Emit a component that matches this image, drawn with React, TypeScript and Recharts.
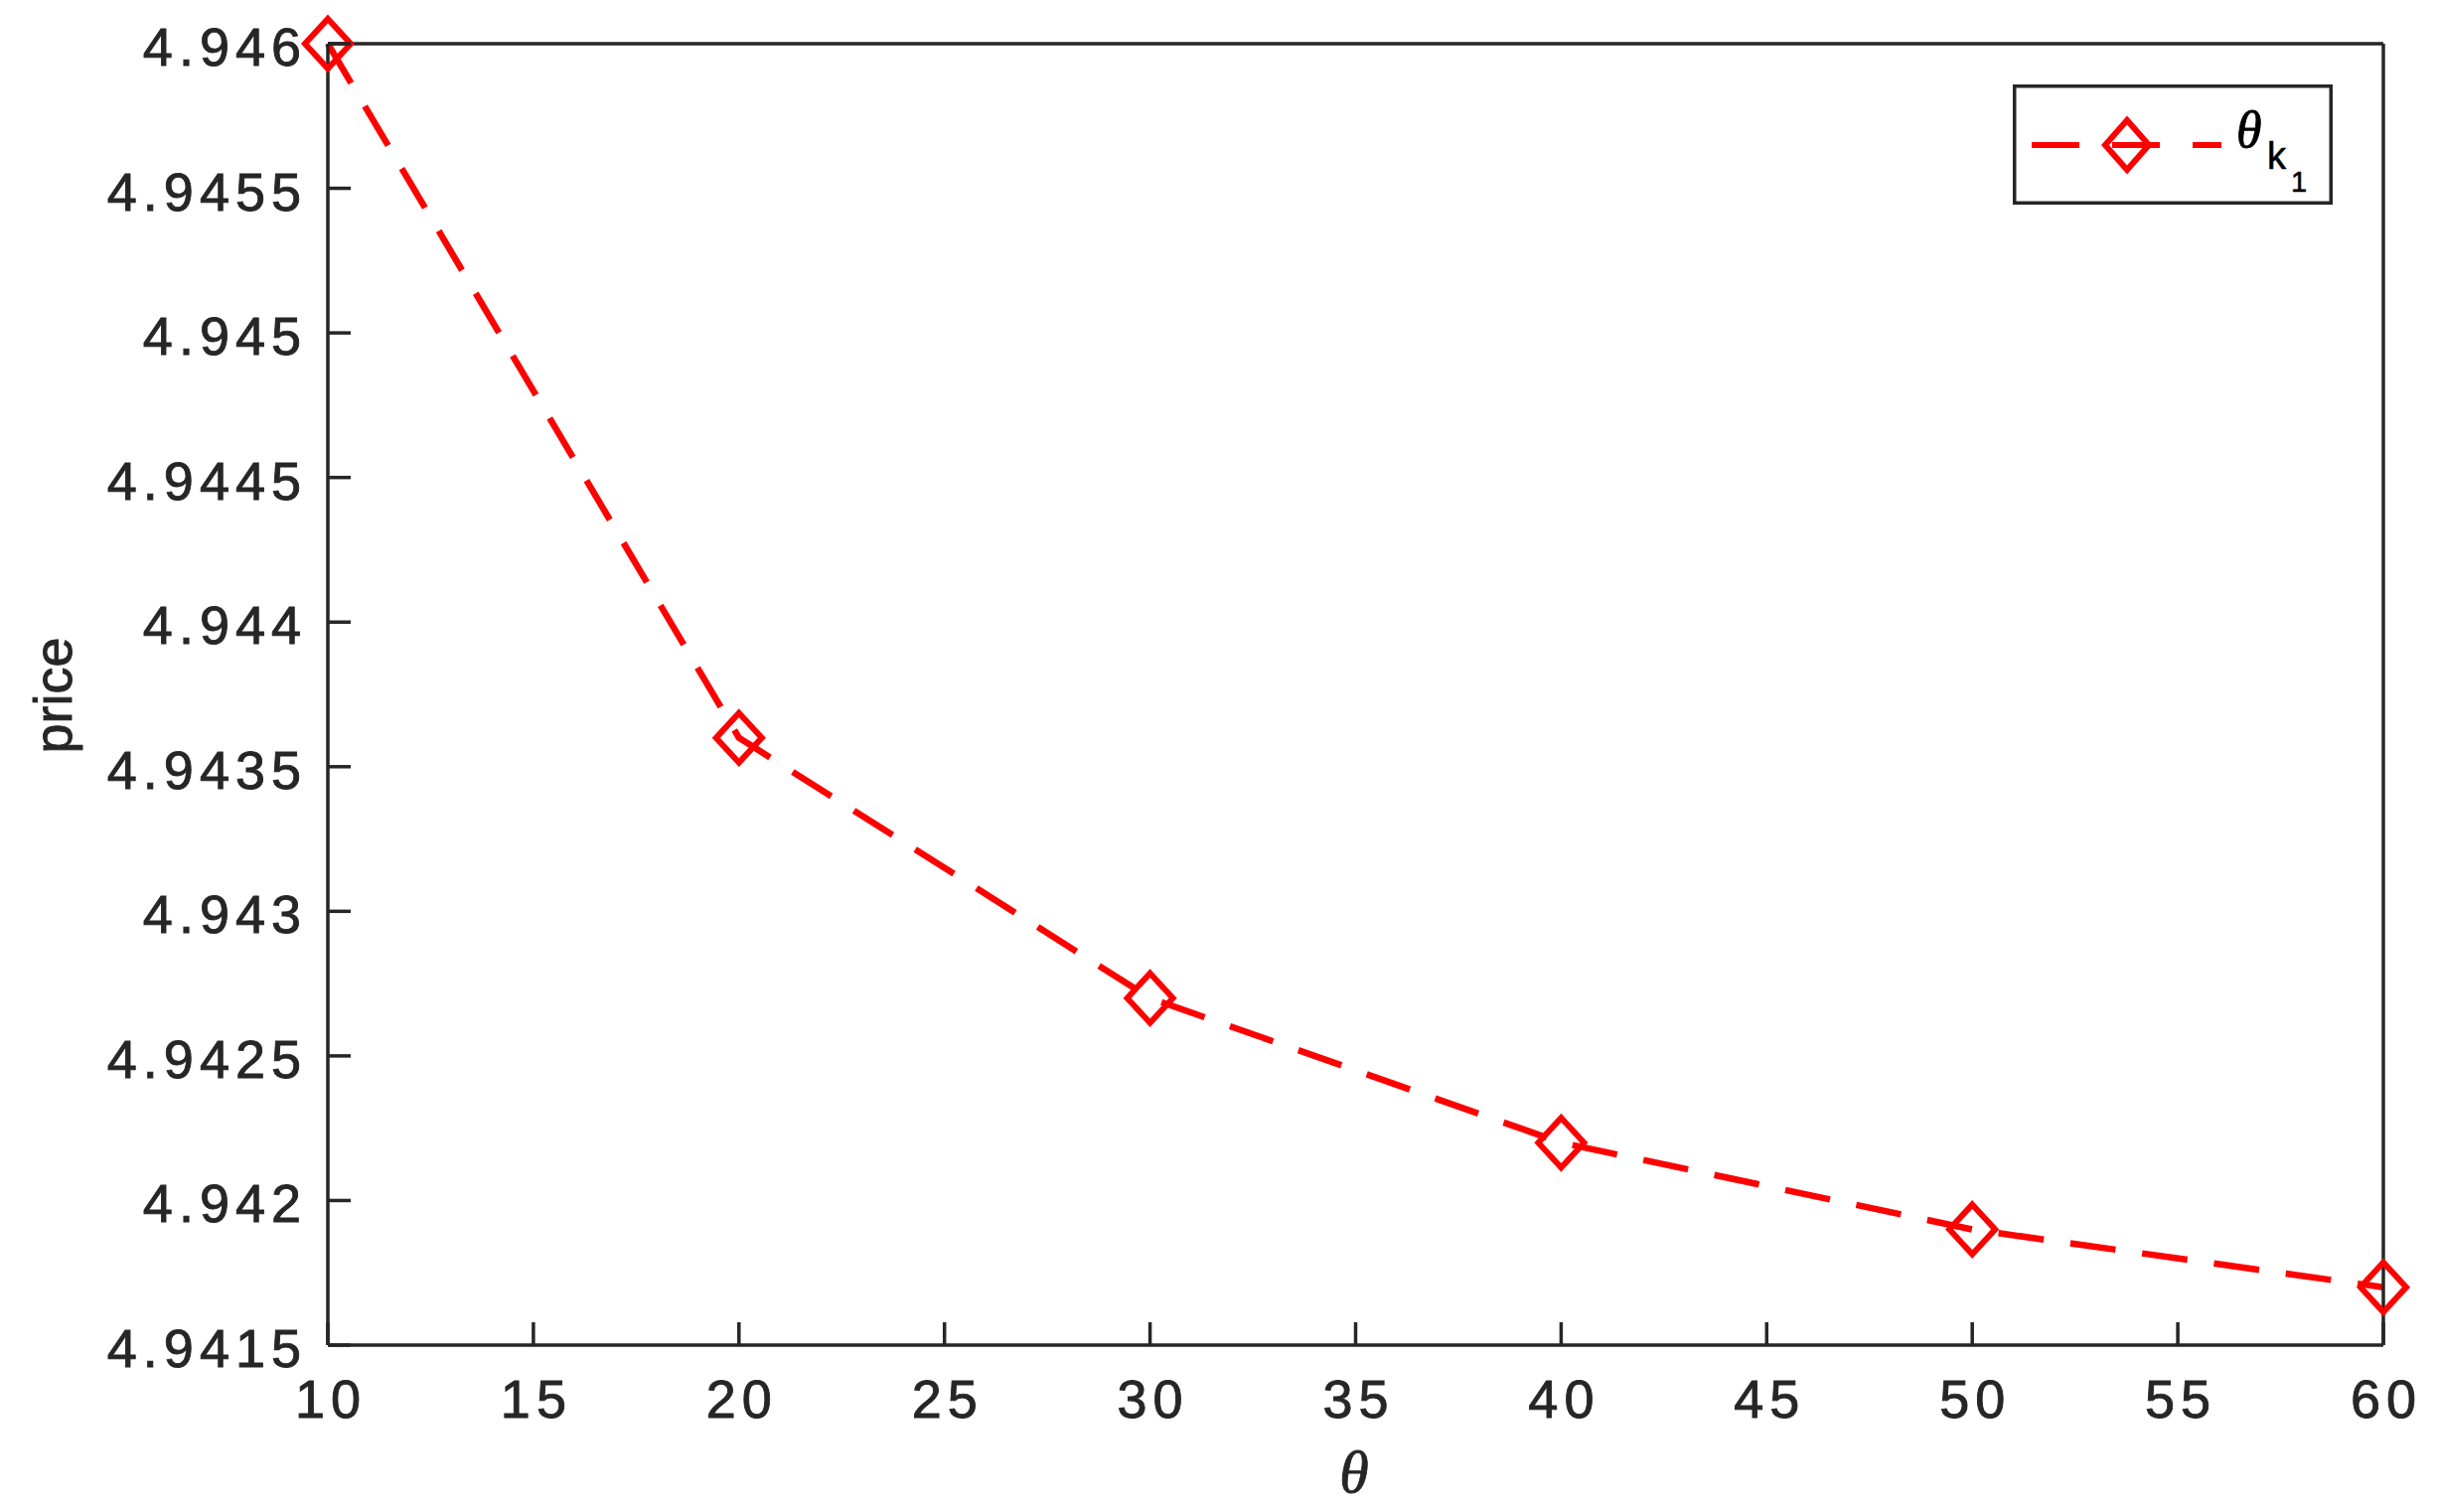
import { LineChart, Line, XAxis, YAxis, Legend } from 'recharts';

const thetaValues = [10, 20, 30, 40, 50, 60];
const priceValues = [4.946, 4.9436, 4.9427, 4.9422, 4.9419, 4.9417];
const thetaTicks = [10, 15, 20, 25, 30, 35, 40, 45, 50, 55, 60];
const priceTicks = [4.9415, 4.942, 4.9425, 4.943, 4.9435, 4.944, 4.9445, 4.945, 4.9455, 4.946];

const data = thetaValues.map((theta, i) => ({ theta, price: priceValues[i] }));

const AXIS = '#262626';
const RED = '#ff0000';
const TICK_LEN = 23;
const AXIS_W = 3.5;
const SANS = '"Liberation Sans", Arial, Helvetica, sans-serif';
const SERIF = '"Liberation Serif", "Times New Roman", serif';
const DASH = '46 27';

const fmt = (v: number) => String(Number(v.toFixed(4)));

const Diamond = (props: any) => {
  const { cx, cy } = props;
  if (cx == null || cy == null) return null;
  return (
    <polygon
      points={`${cx},${cy - 25} ${cx + 23},${cy} ${cx},${cy + 25} ${cx - 23},${cy}`}
      fill="none"
      stroke={RED}
      strokeWidth={6}
    />
  );
};

// left axis: label + inward tick
const YTick = ({ x, y, payload }: any) => (
  <g>
    <line x1={x + 21} y1={y} x2={x + 21 + TICK_LEN} y2={y} stroke={AXIS} strokeWidth={AXIS_W} />
    <text x={x} y={y} dy={22} textAnchor="end" fontFamily={SANS} fontSize={54} letterSpacing={6} fill={AXIS} stroke={AXIS} strokeWidth={0.9}>
      {fmt(payload.value)}
    </text>
  </g>
);

// bottom axis: label + inward tick
const XTick = ({ x, y, payload }: any) => (
  <g>
    <line x1={x} y1={y} x2={x} y2={y - TICK_LEN} stroke={AXIS} strokeWidth={AXIS_W} />
    <text x={x} y={y} dx={3} dy={73} textAnchor="middle" fontFamily={SANS} fontSize={54} letterSpacing={6} fill={AXIS} stroke={AXIS} strokeWidth={0.9}>
      {payload.value}
    </text>
  </g>
);

const NoLabel = () => <g />;

const LegendBox = () => (
  <svg width={322} height={121} style={{ display: 'block' }}>
    <rect x={1.75} y={1.75} width={318.5} height={117.5} fill="#fff" stroke={AXIS} strokeWidth={AXIS_W} />
    <line x1={19} y1={61} x2={210} y2={61} stroke={RED} strokeWidth={6} strokeDasharray="48 33" />
    <polygon points="115,36 137,61 115,86 93,61" fill="none" stroke={RED} strokeWidth={6} />
    <text x={225} y={63} fontFamily={SERIF} fontStyle="italic" fontSize={52} fill="#000" stroke="#000" strokeWidth={0.8}>θ</text>
    <text x={256} y={85} fontFamily={SANS} fontSize={38} fill="#000" stroke="#000" strokeWidth={0.6}>k</text>
    <text x={280} y={108} fontFamily={SANS} fontSize={29} fill="#000" stroke="#000" strokeWidth={0.5}>1</text>
  </svg>
);

export default function App() {
  return (
    <div style={{ position: 'absolute', left: 0, top: 0, width: 2453, height: 1522, background: '#fff' }}>
      <LineChart width={2453} height={1522} data={data} margin={{ top: 44, right: 54, bottom: 108, left: 250 }}>
        <XAxis
          xAxisId="b"
          dataKey="theta"
          type="number"
          domain={[10, 60]}
          ticks={thetaTicks}
          interval={0}
          height={60}
          tickSize={0}
          tickMargin={0}
          tickLine={false}
          axisLine={{ stroke: AXIS, strokeWidth: AXIS_W }}
          tick={XTick}
          label={{
            content: () => (
              <text x={1363} y={1502} textAnchor="middle" fontFamily={SERIF} fontStyle="italic" fontSize={60} fill={AXIS} stroke={AXIS} strokeWidth={0.8}>
                θ
              </text>
            ),
          }}
        />
        <XAxis
          xAxisId="t"
          orientation="top"
          mirror
          type="number"
          domain={[10, 60]}
          ticks={thetaTicks}
          interval={0}
          tickSize={TICK_LEN}
          tickLine={{ stroke: AXIS, strokeWidth: AXIS_W }}
          axisLine={{ stroke: AXIS, strokeWidth: AXIS_W }}
          tick={NoLabel}
        />
        <YAxis
          yAxisId="l"
          type="number"
          domain={[4.9415, 4.946]}
          ticks={priceTicks}
          interval={0}
          width={80}
          tickSize={0}
          tickMargin={21}
          tickLine={false}
          axisLine={{ stroke: AXIS, strokeWidth: AXIS_W }}
          tick={YTick}
          label={{
            content: () => (
              <text x={72} y={700} transform="rotate(-90 72 700)" textAnchor="middle" fontFamily={SANS} fontSize={54} fill={AXIS} stroke={AXIS} strokeWidth={0.9}>
                price
              </text>
            ),
          }}
        />
        <YAxis
          yAxisId="r"
          orientation="right"
          mirror
          type="number"
          domain={[4.9415, 4.946]}
          ticks={priceTicks}
          interval={0}
          tickSize={TICK_LEN}
          tickLine={{ stroke: AXIS, strokeWidth: AXIS_W }}
          axisLine={{ stroke: AXIS, strokeWidth: AXIS_W }}
          tick={NoLabel}
        />
        <Legend
          layout="vertical"
          align="center"
          verticalAlign="middle"
          content={LegendBox}
          wrapperStyle={{ left: 2026, top: 85, width: 322, height: 121 }}
        />
        <Line
          xAxisId="b"
          yAxisId="l"
          type="linear"
          dataKey="price"
          name="θk1"
          stroke={RED}
          strokeWidth={6.5}
          strokeDasharray={DASH}
          dot={Diamond}
          activeDot={false}
          isAnimationActive={false}
        />
      </LineChart>
    </div>
  );
}
